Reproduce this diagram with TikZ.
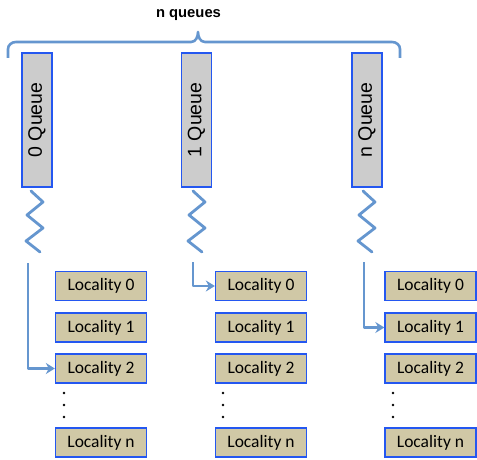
\documentclass[tikz,border=0pt]{standalone}
\usepackage{fontspec}
\setmainfont{Liberation Sans}
\newfontfamily\locfont{Carlito}
\usetikzlibrary{arrows.meta}
\definecolor{wire}{HTML}{6596CF}
\definecolor{edge}{HTML}{2457F0}
\definecolor{queuefill}{HTML}{CCCCCC}
\definecolor{locfill}{HTML}{D0C8A6}
\tikzset{
  queuebox/.style={draw=edge, line width=1.3pt, fill=queuefill, rotate=90,
    minimum width=134pt, minimum height=30pt, inner sep=0pt,
    font=\fontsize{19.5}{22}\selectfont},
  locbox/.style={draw=edge, line width=1.3pt, fill=locfill,
    minimum width=91pt, minimum height=29pt, inner sep=0pt,
    font=\locfont\fontsize{17.5}{20}\selectfont},
  spring/.style={draw=wire, line width=2.8pt, line join=round, line cap=round},
  link/.style={draw=wire, line width=2.6pt, line join=round,
    -{Stealth[length=9pt,width=11pt,inset=3pt]}},
  bracket/.style={draw=wire, line width=2.6pt, line join=round},
  dot/.style={fill=black}
}
\begin{document}
\begin{tikzpicture}[x=1pt,y=-1pt]
\useasboundingbox (0,0) rectangle (477,460);

% title and brace over the queues
\node[font=\bfseries\fontsize{14.8}{17}\selectfont] (title) at (188.5,15) {n queues};
\draw[bracket] (8,58) -- (8,49) to[out=90,in=180] (16,42) -- (191,42)
  to[out=0,in=-90] (198,32) to[out=-90,in=180] (205,42) -- (392,42)
  to[out=0,in=90] (400,49) -- (400,58);

% queues
\node[queuebox] (q0) at (37,120) {0 Queue};
\node[queuebox] (q1) at (196.5,120) {1 Queue};
\node[queuebox] (qn) at (367,120) {n Queue};

% localities, one column per queue
\foreach \c/\x in {0/101, 1/261, n/430.5} {
  \node[locbox] (l\c0) at (\x,286) {Locality 0};
  \node[locbox] (l\c1) at (\x,327.5) {Locality 1};
  \node[locbox] (l\c2) at (\x,368.5) {Locality 2};
  \node[locbox] (l\c n) at (\x,442.5) {Locality n};
}

% vertical ellipses between Locality 2 and Locality n
\foreach \x in {64,223,393} {
  \foreach \y in {393,405,417} {
    \fill[dot] (\x,\y) circle (1.3pt);
  }
}

% springs hanging from the queues
\coordinate (s0) at (31,191);
\coordinate (s1) at (193,191);
\coordinate (sn) at (363,191);
\foreach \s in {s0,s1,sn} {
  \draw[spring] (\s) -- ++(12,11) -- ++(-16,13) -- ++(16,13) -- ++(-17,13) -- ++(14,11);
}

% dispatch arrows to the chosen locality
\coordinate (a0) at (28,263);
\coordinate (a1) at (193,262);
\coordinate (an) at (364,262);
\draw[link] (a0) |- (l02.west);
\draw[link] (a1) |- (l10.west);
\draw[link] (an) |- (ln1.west);
\end{tikzpicture}
\end{document}
